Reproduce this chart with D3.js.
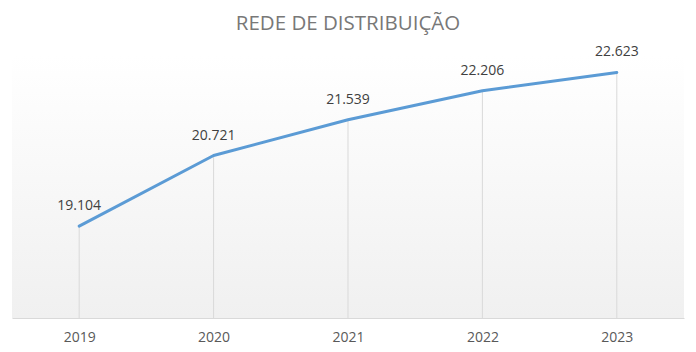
<!DOCTYPE html>
<html>
<head>
<meta charset="utf-8">
<script src="https://cdn.jsdelivr.net/npm/d3@7"></script>
<style>
  body { margin: 0; background: #fff; }
  svg text { font-family: "Open Sans", "Noto Sans", sans-serif; }
</style>
</head>
<body>
<div id="chart"></div>
<script>
(function() {
    var years = ["2019", "2020", "2021", "2022", "2023"];
    var values = [19.104, 20.721, 21.539, 22.206, 22.623];
    var labels = ["19.104", "20.721", "21.539", "22.206", "22.623"];
    var title = "REDE DE DISTRIBUIÇÃO";

    var svgWidth = 696, svgHeight = 352;
    var margin = {top: 56, right: 12, bottom: 34, left: 12};
    var width = svgWidth - margin.left - margin.right;
    var height = svgHeight - margin.top - margin.bottom;

    var svg = d3.select("#chart")
        .append("svg")
        .attr("width", svgWidth)
        .attr("height", svgHeight);

    var defs = svg.append("defs");
    var grad = defs.append("linearGradient")
        .attr("id", "bg")
        .attr("x1", 0).attr("y1", 0).attr("x2", 0).attr("y2", 1);
    grad.append("stop").attr("offset", "0%").attr("stop-color", "#ffffff");
    grad.append("stop").attr("offset", "100%").attr("stop-color", "#f0f0f0");

    svg.append("text")
        .attr("x", svgWidth / 2)
        .attr("y", 30)
        .attr("text-anchor", "middle")
        .style("font-size", "20.5px")
        .style("fill", "#787878")
        .text(title);

    var g = svg.append("g")
        .attr("transform", "translate(" + margin.left + "," + margin.top + ")");

    g.append("rect")
        .attr("width", width)
        .attr("height", height)
        .attr("fill", "url(#bg)");

    var x = d3.scalePoint().domain(years).range([0, width]).padding(0.5);
    var y = d3.scaleLinear().domain([17, 23]).range([height, 0]);

    // drop lines
    g.selectAll(".drop")
        .data(values)
        .enter().append("line")
        .attr("class", "drop")
        .attr("x1", (d, i) => x(years[i]))
        .attr("x2", (d, i) => x(years[i]))
        .attr("y1", d => y(d))
        .attr("y2", height)
        .style("stroke", "#d9d9d9")
        .style("stroke-width", 1);

    var xAxis = g.append("g")
        .attr("transform", "translate(0," + height + ")")
        .call(d3.axisBottom(x).tickSize(0).tickPadding(14));
    xAxis.select(".domain").style("stroke", "#d9d9d9");
    xAxis.selectAll("text")
        .style("font-size", "14px")
        .style("fill", "#595959");

    var line = d3.line()
        .x((d, i) => x(years[i]))
        .y(d => y(d));

    g.append("path")
        .datum(values)
        .attr("d", line)
        .style("fill", "none")
        .style("stroke", "#5b9bd5")
        .style("stroke-width", 3)
        .style("stroke-linejoin", "round")
        .style("stroke-linecap", "round");

    g.selectAll(".label")
        .data(values)
        .enter().append("text")
        .attr("class", "label")
        .attr("x", (d, i) => x(years[i]))
        .attr("y", d => y(d) - 16)
        .attr("text-anchor", "middle")
        .style("font-size", "14px")
        .style("fill", "#404040")
        .text((d, i) => labels[i]);
})();
</script>
</body>
</html>
